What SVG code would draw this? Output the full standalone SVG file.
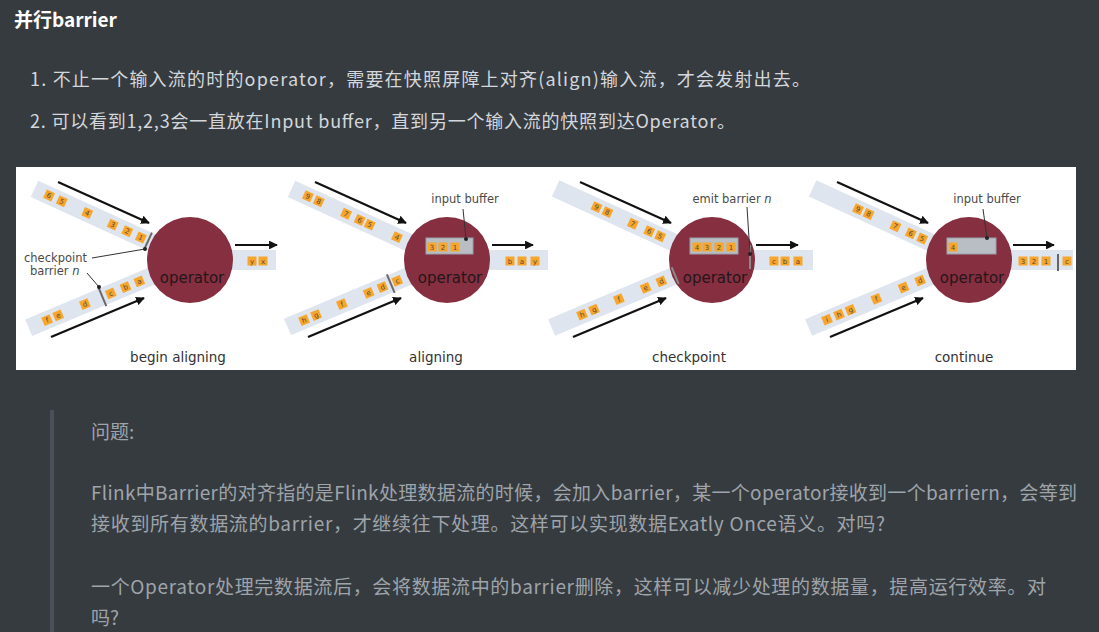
<svg xmlns="http://www.w3.org/2000/svg" width="1099" height="632" viewBox="0 0 1099 632">
<defs>
<style>
.bg{fill:#363b40}
.title{font-family:"Noto Sans CJK SC","Noto Sans",sans-serif;font-size:19px;font-weight:bold;fill:#ffffff}
.li{font-family:"Noto Sans CJK SC","Noto Sans",sans-serif;font-size:18px;fill:#d3d7db}
.qt{font-family:"Noto Sans CJK SC","Noto Sans",sans-serif;font-size:19px;fill:#9ea4aa}
.band{fill:#dfe5ef}
.sq{fill:#f6a62c}
.st{font-family:"DejaVu Sans",sans-serif;font-size:7px;fill:#5a4632;text-anchor:middle}
.op{fill:#862f40}
.opt{font-family:"DejaVu Sans",sans-serif;font-size:15px;fill:#24161a;text-anchor:middle}
.cap{font-family:"DejaVu Sans",sans-serif;font-size:13.5px;fill:#333333;text-anchor:middle}
.lab{font-family:"DejaVu Sans",sans-serif;font-size:11.5px;fill:#4a4a4a}
.arr{stroke:#111111;stroke-width:2.2;fill:none;marker-end:url(#ah)}
.lead{stroke:#333333;stroke-width:1;fill:none}
.bar{stroke:#6a6a6a;stroke-width:2}
.buf{fill:#b9bec5;stroke:#9aa0a8;stroke-width:1}
</style>
<marker id="ah" viewBox="0 0 10 10" refX="9" refY="5" markerWidth="4" markerHeight="4" orient="auto" markerUnits="strokeWidth">
<path d="M0,0 L10,5 L0,10 z" fill="#111111"/>
</marker>
</defs>
<rect class="bg" x="0" y="0" width="1099" height="632"/>
<g id="header">
<text class="title" x="14" y="27">并行barrier</text>
<text class="li" x="30" y="86" textLength="780">1. 不止一个输入流的时的operator，需要在快照屏障上对齐(align)输入流，才会发射出去。</text>
<text class="li" x="30" y="128" textLength="705">2. 可以看到1,2,3会一直放在Input buffer，直到另一个输入流的快照到达Operator。</text>
</g>
<rect x="16" y="167" width="1060" height="203" fill="#ffffff"/>

<!-- Panel 1 -->
<g id="panel-begin-aligning" transform="translate(190,260)">
<g transform="rotate(24.6)">
<rect class="band" x="-171" y="-9" width="171" height="18"/>
<line class="bar" x1="-46" y1="-9" x2="-46" y2="9"/>
<rect class="sq" x="-58.5" y="-4.5" width="9" height="9"/><text class="st" x="-54" y="2.5">1</text>
<rect class="sq" x="-73.5" y="-4.5" width="9" height="9"/><text class="st" x="-69" y="2.5">2</text>
<rect class="sq" x="-89.5" y="-4.5" width="9" height="9"/><text class="st" x="-85" y="2.5">3</text>
<rect class="sq" x="-117.5" y="-4.5" width="9" height="9"/><text class="st" x="-113" y="2.5">4</text>
<rect class="sq" x="-145.5" y="-4.5" width="9" height="9"/><text class="st" x="-141" y="2.5">5</text>
<rect class="sq" x="-159.5" y="-4.5" width="9" height="9"/><text class="st" x="-155" y="2.5">6</text>
</g>
<g transform="rotate(-22.8)">
<rect class="band" x="-175" y="-9" width="175" height="18"/>
<rect class="sq" x="-59.5" y="-4.5" width="9" height="9"/><text class="st" x="-55" y="2.5">a</text>
<rect class="sq" x="-74.5" y="-4.5" width="9" height="9"/><text class="st" x="-70" y="2.5">b</text>
<rect class="sq" x="-90.5" y="-4.5" width="9" height="9"/><text class="st" x="-86" y="2.5">c</text>
<line class="bar" x1="-95" y1="-10" x2="-95" y2="10"/>
<rect class="sq" x="-118.5" y="-4.5" width="9" height="9"/><text class="st" x="-114" y="2.5">d</text>
<rect class="sq" x="-147.5" y="-4.5" width="9" height="9"/><text class="st" x="-143" y="2.5">e</text>
<rect class="sq" x="-159.5" y="-4.5" width="9" height="9"/><text class="st" x="-155" y="2.5">f</text>
</g>
<rect class="band" x="30" y="-10" width="56" height="20"/>
<rect class="sq" x="57.5" y="-3.5" width="9" height="9"/><text class="st" x="62" y="3.5">y</text>
<rect class="sq" x="68.5" y="-3.5" width="9" height="9"/><text class="st" x="73" y="3.5">x</text>
<circle class="op" cx="0" cy="0" r="43"/>
<text class="opt" x="2" y="23">operator</text>
<text class="cap" x="-12" y="102">begin aligning</text>
</g>
<g id="panel1-labels">
<text class="lab" x="24" y="262">checkpoint</text>
<text class="lab" x="30" y="275">barrier <tspan font-style="italic">n</tspan></text>
<path class="lead" d="M92,258 L145,249"/>
<circle cx="145" cy="249" r="2" fill="#222"/>
<path class="lead" d="M87,273 L99,287"/>
<circle cx="99" cy="287" r="2" fill="#222"/>
</g>

<!-- Panel 2 -->
<g id="panel-aligning" transform="translate(447,260)">
<g transform="rotate(24.6)">
<rect class="band" x="-171" y="-9" width="171" height="18"/>
<rect class="sq" x="-59.5" y="-4.5" width="9" height="9"/><text class="st" x="-55" y="2.5">4</text>
<rect class="sq" x="-89.5" y="-4.5" width="9" height="9"/><text class="st" x="-85" y="2.5">5</text>
<rect class="sq" x="-100.5" y="-4.5" width="9" height="9"/><text class="st" x="-96" y="2.5">6</text>
<rect class="sq" x="-115.5" y="-4.5" width="9" height="9"/><text class="st" x="-111" y="2.5">7</text>
<rect class="sq" x="-145.5" y="-4.5" width="9" height="9"/><text class="st" x="-141" y="2.5">8</text>
<rect class="sq" x="-157.5" y="-4.5" width="9" height="9"/><text class="st" x="-153" y="2.5">9</text>
</g>
<g transform="rotate(-22.8)">
<rect class="band" x="-173" y="-9" width="173" height="18"/>
<rect class="sq" x="-58.5" y="-4.5" width="9" height="9"/><text class="st" x="-54" y="2.5">c</text>
<line class="bar" x1="-61" y1="-10" x2="-61" y2="10"/>
<rect class="sq" x="-74.5" y="-4.5" width="9" height="9"/><text class="st" x="-70" y="2.5">d</text>
<rect class="sq" x="-89.5" y="-4.5" width="9" height="9"/><text class="st" x="-85" y="2.5">e</text>
<rect class="sq" x="-118.5" y="-4.5" width="9" height="9"/><text class="st" x="-114" y="2.5">f</text>
<rect class="sq" x="-146.5" y="-4.5" width="9" height="9"/><text class="st" x="-142" y="2.5">g</text>
<rect class="sq" x="-159.5" y="-4.5" width="9" height="9"/><text class="st" x="-155" y="2.5">h</text>
</g>
<rect class="band" x="30" y="-10" width="71" height="20"/>
<rect class="sq" x="58.5" y="-3.5" width="9" height="9"/><text class="st" x="63" y="3.5">b</text>
<rect class="sq" x="70.5" y="-3.5" width="9" height="9"/><text class="st" x="75" y="3.5">a</text>
<rect class="sq" x="83.5" y="-3.5" width="9" height="9"/><text class="st" x="88" y="3.5">y</text>
<circle class="op" cx="0" cy="0" r="43"/>
<rect class="buf" x="-21" y="-22" width="47" height="16"/>
<rect class="sq" x="-19.5" y="-17.5" width="9" height="9"/><text class="st" x="-15" y="-10.5">3</text>
<rect class="sq" x="-8.5" y="-17.5" width="9" height="9"/><text class="st" x="-4" y="-10.5">2</text>
<rect class="sq" x="3.5" y="-17.5" width="9" height="9"/><text class="st" x="8" y="-10.5">1</text>
<path class="lead" d="M16,-51 L19,-21"/>
<circle cx="19" cy="-21" r="2" fill="#222"/>
<text class="lab" x="18" y="-57" text-anchor="middle">input buffer</text>
<text class="opt" x="3" y="23">operator</text>
<text class="cap" x="-11" y="102">aligning</text>
</g>

<!-- Panel 3 -->
<g id="panel-checkpoint" transform="translate(712,260)">
<g transform="rotate(24.6)">
<rect class="band" x="-172" y="-9" width="172" height="18"/>
<rect class="sq" x="-61.5" y="-4.5" width="9" height="9"/><text class="st" x="-57" y="2.5">5</text>
<rect class="sq" x="-73.5" y="-4.5" width="9" height="9"/><text class="st" x="-69" y="2.5">6</text>
<rect class="sq" x="-91.5" y="-4.5" width="9" height="9"/><text class="st" x="-87" y="2.5">7</text>
<rect class="sq" x="-119.5" y="-4.5" width="9" height="9"/><text class="st" x="-115" y="2.5">8</text>
<rect class="sq" x="-131.5" y="-4.5" width="9" height="9"/><text class="st" x="-127" y="2.5">9</text>
</g>
<g transform="rotate(-22.8)">
<rect class="band" x="-174" y="-9" width="174" height="18"/>
<rect class="sq" x="-59.5" y="-4.5" width="9" height="9"/><text class="st" x="-55" y="2.5">d</text>
<rect class="sq" x="-76.5" y="-4.5" width="9" height="9"/><text class="st" x="-72" y="2.5">e</text>
<rect class="sq" x="-105.5" y="-4.5" width="9" height="9"/><text class="st" x="-101" y="2.5">f</text>
<rect class="sq" x="-132.5" y="-4.5" width="9" height="9"/><text class="st" x="-128" y="2.5">g</text>
<rect class="sq" x="-145.5" y="-4.5" width="9" height="9"/><text class="st" x="-141" y="2.5">h</text>
</g>
<rect class="band" x="30" y="-10" width="71" height="20"/>
<rect class="sq" x="57.5" y="-3.5" width="9" height="9"/><text class="st" x="62" y="3.5">c</text>
<rect class="sq" x="68.5" y="-3.5" width="9" height="9"/><text class="st" x="73" y="3.5">b</text>
<rect class="sq" x="81.5" y="-3.5" width="9" height="9"/><text class="st" x="86" y="3.5">a</text>
<circle class="op" cx="0" cy="0" r="43"/>
<g transform="rotate(-22.8)"><line stroke="#8a8a8a" stroke-width="2" x1="-40" y1="-9" x2="-40" y2="9"/></g>
<rect class="buf" x="-22" y="-22" width="48" height="16"/>
<rect class="sq" x="-19.5" y="-17.5" width="9" height="9"/><text class="st" x="-15" y="-10.5">4</text>
<rect class="sq" x="-9.5" y="-17.5" width="9" height="9"/><text class="st" x="-5" y="-10.5">3</text>
<rect class="sq" x="2.5" y="-17.5" width="9" height="9"/><text class="st" x="7" y="-10.5">2</text>
<rect class="sq" x="14.5" y="-17.5" width="9" height="9"/><text class="st" x="19" y="-10.5">1</text>
<line stroke="#8a8a8a" stroke-width="2" x1="38" y1="-15" x2="38" y2="9"/>
<path class="lead" d="M35,-53 L38,-6"/>
<circle cx="38" cy="-6" r="2" fill="#222"/>
<text class="lab" x="20" y="-57" text-anchor="middle">emit barrier <tspan font-style="italic">n</tspan></text>
<text class="opt" x="3" y="23">operator</text>
<text class="cap" x="-23" y="102">checkpoint</text>
</g>

<!-- Panel 4 -->
<g id="panel-continue" transform="translate(969,260)">
<g transform="rotate(24.6)">
<rect class="band" x="-172" y="-9" width="172" height="18"/>
<rect class="sq" x="-56" y="-4.5" width="9" height="9"/><text class="st" x="-51.5" y="2.5">5</text>
<rect class="sq" x="-68.5" y="-4.5" width="9" height="9"/><text class="st" x="-64" y="2.5">6</text>
<rect class="sq" x="-85.5" y="-4.5" width="9" height="9"/><text class="st" x="-81" y="2.5">7</text>
<rect class="sq" x="-115" y="-4.5" width="9" height="9"/><text class="st" x="-110.5" y="2.5">8</text>
<rect class="sq" x="-126.5" y="-4.5" width="9" height="9"/><text class="st" x="-122" y="2.5">9</text>
</g>
<g transform="rotate(-22.8)">
<rect class="band" x="-174" y="-9" width="174" height="18"/>
<rect class="sq" x="-57.5" y="-4.5" width="9" height="9"/><text class="st" x="-53" y="2.5">d</text>
<rect class="sq" x="-75.5" y="-4.5" width="9" height="9"/><text class="st" x="-71" y="2.5">e</text>
<rect class="sq" x="-105" y="-4.5" width="9" height="9"/><text class="st" x="-100.5" y="2.5">f</text>
<rect class="sq" x="-133" y="-4.5" width="9" height="9"/><text class="st" x="-128.5" y="2.5">g</text>
<rect class="sq" x="-145.5" y="-4.5" width="9" height="9"/><text class="st" x="-141" y="2.5">h</text>
<rect class="sq" x="-158.5" y="-4.5" width="9" height="9"/><text class="st" x="-154" y="2.5">i</text>
</g>
<rect class="band" x="30" y="-10" width="74" height="20"/>
<rect class="sq" x="49.5" y="-3.5" width="9" height="9"/><text class="st" x="54" y="3.5">3</text>
<rect class="sq" x="60.5" y="-3.5" width="9" height="9"/><text class="st" x="65" y="3.5">2</text>
<rect class="sq" x="72.5" y="-3.5" width="9" height="9"/><text class="st" x="77" y="3.5">1</text>
<line stroke="#666666" stroke-width="2" x1="89" y1="-6" x2="89" y2="11"/>
<rect class="sq" x="93.5" y="-3.5" width="9" height="9"/><text class="st" x="98" y="3.5">c</text>
<circle class="op" cx="0" cy="0" r="43"/>
<rect class="buf" x="-22" y="-22" width="49" height="16"/>
<rect class="sq" x="-20.5" y="-17.5" width="9" height="9"/><text class="st" x="-16" y="-10.5">4</text>
<path class="lead" d="M14,-51 L18,-22"/>
<circle cx="18" cy="-22" r="2" fill="#222"/>
<text class="lab" x="18" y="-57" text-anchor="middle">input buffer</text>
<text class="opt" x="3" y="23">operator</text>
<text class="cap" x="-5" y="102">continue</text>
</g>

<g id="connectors">
<g transform="translate(190,260)">
<path class="arr" d="M-132,-78 L-41,-37"/><path class="arr" d="M-139,77 L-46,38"/><path class="arr" d="M45,-15 L87,-15"/>
</g>
<g transform="translate(447,260)">
<path class="arr" d="M-132,-78 L-41,-37"/><path class="arr" d="M-139,77 L-46,38"/><path class="arr" d="M45,-15 L86,-15"/>
</g>
<g transform="translate(712,260)">
<path class="arr" d="M-132,-78 L-41,-37"/><path class="arr" d="M-139,77 L-46,38"/><path class="arr" d="M44,-15 L86,-15"/>
</g>
<g transform="translate(969,260)">
<path class="arr" d="M-132,-78 L-41,-37"/><path class="arr" d="M-139,77 L-46,38"/><path class="arr" d="M44,-15 L85,-15"/>
</g>
</g>

<g id="quote">
<rect x="50" y="410" width="4" height="222" fill="#4a5057"/>
<text class="qt" x="91" y="439">问题:</text>
<text class="qt" x="91" y="500" textLength="986">Flink中Barrier的对齐指的是Flink处理数据流的时候，会加入barrier，某一个operator接收到一个barriern，会等到</text>
<text class="qt" x="91" y="531" textLength="794">接收到所有数据流的barrier，才继续往下处理。这样可以实现数据Exatly Once语义。对吗?</text>
<text class="qt" x="91" y="594" textLength="955">一个Operator处理完数据流后，会将数据流中的barrier删除，这样可以减少处理的数据量，提高运行效率。对</text>
<text class="qt" x="91" y="625">吗?</text>
</g>
</svg>
